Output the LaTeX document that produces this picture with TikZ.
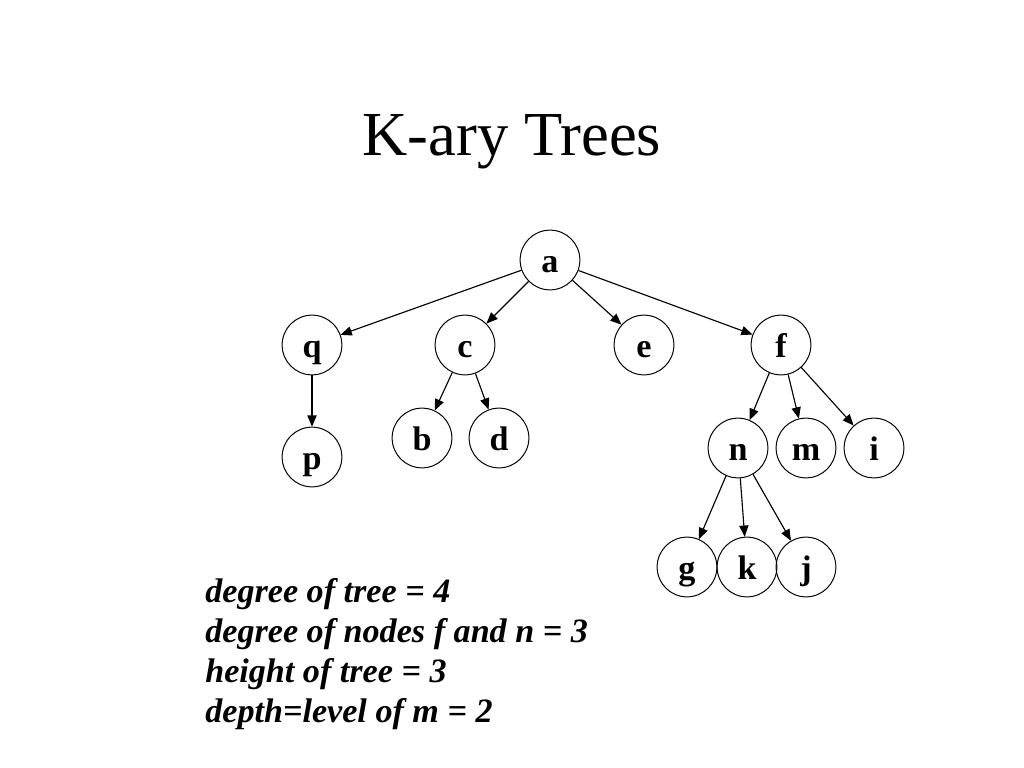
\documentclass[tikz,border=0pt]{standalone}
\usepackage{fontspec}
\setmainfont{Liberation Serif}
\usetikzlibrary{arrows,shapes}

\begin{document}
\begin{tikzpicture}[x=0.703pt,y=-0.703pt]
                \tikzstyle{vertex}=[draw, circle, line width=0.7pt, minimum size=42pt, inner sep=0pt, text height=18pt, text depth=0pt, font=\fontsize{24}{28}\selectfont\bfseries]
                \tikzstyle{myarrows}=[line width=0.8pt,-triangle 45]
                \tikzstyle{facts}=[anchor=base west, inner sep=0pt, font=\fontsize{24}{28}\selectfont\bfseries\itshape]
                \useasboundingbox (0,0) rectangle (1024,768);

                \node[anchor=base, inner sep=0pt, font=\fontsize{44}{52}\selectfont] (title) at (512,155) {K-ary Trees};

                \node[vertex] (a) at (550,260) {a};
                \node[vertex] (q) at (312,345) {q};
                \node[vertex] (c) at (465,345) {c};
                \node[vertex] (e) at (644,345) {e};
                \node[vertex] (f) at (781,345) {f};
                \node[vertex] (p) at (312,457) {p};
                \node[vertex] (b) at (422,438) {b};
                \node[vertex] (d) at (499,438) {d};
                \node[vertex] (n) at (738,448) {n};
                \node[vertex] (m) at (806,448) {m};
                \node[vertex] (i) at (874,448) {i};
                \node[vertex] (g) at (687,567) {g};
                \node[vertex] (k) at (747,567) {k};
                \node[vertex] (j) at (806,567) {j};

                \draw[myarrows] (a) -- (q);
                \draw[myarrows] (a) -- (c);
                \draw[myarrows] (a) -- (e);
                \draw[myarrows] (a) -- (f);
                \draw[myarrows] (q) -- (p);
                \draw[myarrows] (c) -- (b);
                \draw[myarrows] (c) -- (d);
                \draw[myarrows] (f) -- (n);
                \draw[myarrows] (f) -- (m);
                \draw[myarrows] (f) -- (i);
                \draw[myarrows] (n) -- (g);
                \draw[myarrows] (n) -- (k);
                \draw[myarrows] (n) -- (j);

                \node[facts] (deg) at (205,602) {degree of tree = 4};
                \node[facts] (degfn) at (205,642) {degree of nodes f and n = 3};
                \node[facts] (height) at (205,682) {height of tree = 3};
                \node[facts] (depth) at (205,722) {depth=level of m = 2};
\end{tikzpicture}
\end{document}
